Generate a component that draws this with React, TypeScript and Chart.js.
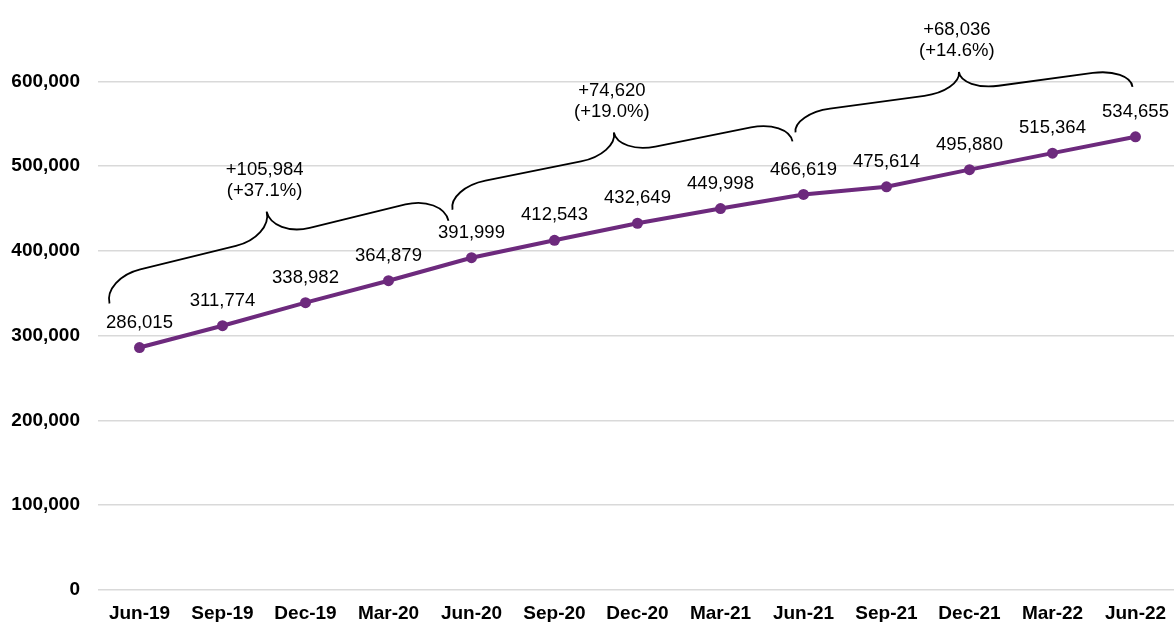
import React, { useEffect, useRef } from 'react';
import { Chart, registerables } from 'chart.js';

Chart.register(...registerables);

const categories: string[] = [
  'Jun-19', 'Sep-19', 'Dec-19', 'Mar-20', 'Jun-20', 'Sep-20', 'Dec-20',
  'Mar-21', 'Jun-21', 'Sep-21', 'Dec-21', 'Mar-22', 'Jun-22',
];
const values: number[] = [
  286015, 311774, 338982, 364879, 391999, 412543, 432649,
  449998, 466619, 475614, 495880, 515364, 534655,
];
const yTickValues: number[] = [0, 100000, 200000, 300000, 400000, 500000, 600000];
const yMin = 0;
const yMax = 696000;

// braces between data points (start index, end index)
const braceFrom: number[] = [0, 4, 8];
const braceTo: number[] = [4, 8, 12];

// brace styling: pixel offsets of brace ends from their anchor points, and brace depth
const braceStyle = [
  { d1: [-30, -44], d2: [-23, -37], h: 52 },
  { d1: [-19, -48], d2: [-11, -53], h: 44 },
  { d1: [-8, -62], d2: [-3, -50], h: 38 },
];

const PURPLE = '#6D2A7D';
const FONT = '"Liberation Sans", Arial, sans-serif';

const fmt = (v: number) => v.toLocaleString('en-US');

const labelPlugin = {
  id: 'pointLabels',
  afterDatasetsDraw(chart: any) {
    const ctx = chart.ctx;
    const meta = chart.getDatasetMeta(0);
    ctx.save();
    ctx.font = `18.5px ${FONT}`;
    ctx.fillStyle = '#000';
    ctx.textAlign = 'center';
    ctx.textBaseline = 'middle';
    meta.data.forEach((pt: any, i: number) => {
      ctx.fillText(fmt(values[i]), pt.x, pt.y - 25);
    });
    ctx.restore();
  },
};

const bracePlugin = {
  id: 'braces',
  afterDatasetsDraw(chart: any) {
    const ctx = chart.ctx;
    const meta = chart.getDatasetMeta(0);
    ctx.save();
    braceFrom.forEach((fi, k) => {
      const ti = braceTo[k];
      const st = braceStyle[k];
      const p0 = meta.data[fi];
      const p1 = meta.data[ti];
      const ax = p0.x + st.d1[0];
      const ay = p0.y + st.d1[1];
      const bx = p1.x + st.d2[0];
      const by = p1.y + st.d2[1];
      const dx = bx - ax;
      const dy = by - ay;
      const L = Math.hypot(dx, dy);
      const ux = dx / L;
      const uy = dy / L;
      const nx = uy;
      const ny = -ux;
      const h = st.h;
      const P = (x: number, y: number): [number, number] => [ax + x * ux + y * nx, ay + x * uy + y * ny];
      const a = h / 2;
      const r = Math.min(38, L * 0.11);
      const k2 = 0.5523;
      const half = L / 2;
      ctx.beginPath();
      ctx.strokeStyle = '#000';
      ctx.lineWidth = 1.8;
      const q = P(0, 0);
      ctx.moveTo(q[0], q[1]);
      let c1 = P(0, a * k2), c2 = P(r - r * k2, a), e = P(r, a);
      ctx.bezierCurveTo(c1[0], c1[1], c2[0], c2[1], e[0], e[1]);
      e = P(half - r, a);
      ctx.lineTo(e[0], e[1]);
      c1 = P(half - r + r * k2, a); c2 = P(half, h - a * k2); e = P(half, h);
      ctx.bezierCurveTo(c1[0], c1[1], c2[0], c2[1], e[0], e[1]);
      c1 = P(half, h - a * k2); c2 = P(half + r - r * k2, a); e = P(half + r, a);
      ctx.bezierCurveTo(c1[0], c1[1], c2[0], c2[1], e[0], e[1]);
      e = P(L - r, a);
      ctx.lineTo(e[0], e[1]);
      c1 = P(L - r + r * k2, a); c2 = P(L, a * k2); e = P(L, 0);
      ctx.bezierCurveTo(c1[0], c1[1], c2[0], c2[1], e[0], e[1]);
      ctx.stroke();

      const tip = P(half, h);
      const diff = values[ti] - values[fi];
      const pct = ((diff / values[fi]) * 100).toFixed(1);
      ctx.font = `18.5px ${FONT}`;
      ctx.fillStyle = '#000';
      ctx.textAlign = 'center';
      ctx.textBaseline = 'middle';
      ctx.fillText(`+${fmt(diff)}`, tip[0] - 2, tip[1] - 42);
      ctx.fillText(`(+${pct}%)`, tip[0] - 2, tip[1] - 21);
    });
    ctx.restore();
  },
};

export default function App() {
  const ref = useRef<HTMLCanvasElement | null>(null);
  useEffect(() => {
    if (!ref.current) return;
    const chart = new Chart(ref.current, {
      type: 'line',
      data: {
        labels: categories,
        datasets: [
          {
            data: values,
            borderColor: PURPLE,
            backgroundColor: PURPLE,
            borderWidth: 4,
            pointRadius: 5.5,
            pointBackgroundColor: PURPLE,
            pointBorderWidth: 0,
            tension: 0,
          },
        ],
      },
      options: {
        responsive: false,
        animation: false,
        layout: { padding: 0, autoPadding: false },
        plugins: { legend: { display: false }, tooltip: { enabled: false } },
        scales: {
          x: {
            offset: true,
            grid: { display: false, drawTicks: false },
            border: { display: false },
            ticks: {
              font: { family: FONT, size: 19, weight: 'bold' },
              color: '#000',
              padding: 12,
              maxRotation: 0,
              autoSkip: false,
            },
            afterFit: (s: any) => {
              s.height = 50;
              s.paddingLeft = 0;
              s.paddingRight = 0;
            },
          },
          y: {
            min: yMin,
            max: yMax,
            grid: { color: '#d9d9d9', lineWidth: 1.5, drawTicks: false },
            border: { display: false },
            afterBuildTicks: (s: any) => {
              s.ticks = yTickValues.map((v) => ({ value: v }));
            },
            ticks: {
              font: { family: FONT, size: 19, weight: 'bold' },
              color: '#000',
              padding: 18,
              callback: (v: any) => fmt(Number(v)),
            },
            afterFit: (s: any) => {
              s.width = 98;
              s.paddingTop = 0;
              s.paddingBottom = 0;
            },
          },
        },
      } as any,
      plugins: [bracePlugin, labelPlugin],
    });
    return () => chart.destroy();
  }, []);

  return (
    <div style={{ position: 'fixed', left: 0, top: 0, width: '100vw', height: '100vh', overflow: 'hidden', background: '#fff' }}>
      <canvas ref={ref} width={1177} height={640} style={{ position: 'absolute', left: 0, top: 0, width: 1177, height: 640 }} />
    </div>
  );
}
